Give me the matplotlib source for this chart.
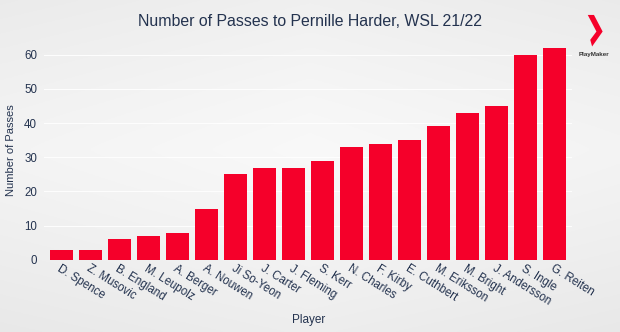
import numpy as np
import matplotlib.pyplot as plt
from matplotlib.patches import Polygon

plt.rcParams['font.family'] = ['Liberation Sans', 'DejaVu Sans']

players = ['D. Spence', 'Z. Musovic', 'B. England', 'M. Leupolz', 'A. Berger',
           'A. Nouwen', 'Ji So-Yeon', 'J. Carter', 'J. Fleming', 'S. Kerr',
           'N. Charles', 'F. Kirby', 'E. Cuthbert', 'M. Eriksson', 'M. Bright',
           'J. Andersson', 'S. Ingle', 'G. Reiten']
passes = [3, 3, 6, 7, 8, 15, 25, 27, 27, 29, 33, 34, 35, 39, 43, 45, 60, 62]

navy = '#24334f'
red = '#f5002a'

fig = plt.figure(figsize=(6.2, 3.32), dpi=100)

# fond dégradé
bg = fig.add_axes([0, 0, 1, 1], zorder=-10)
yy, xx = np.mgrid[0:1:200j, 0:1:300j]
vals = 0.975 - 0.09 * np.abs(yy - 0.45) ** 1.2 - 0.04 * np.abs(xx - 0.5)
bg.imshow(np.dstack([vals, vals, vals]).clip(0, 1), aspect='auto', extent=[0, 1, 0, 1])
bg.axis('off')

ax = fig.add_axes([0.071, 0.217, 0.852, 0.66])
ax.patch.set_alpha(0)
x = np.arange(len(players))
ax.bar(x, passes, width=0.8, color=red, zorder=3)
ax.set_xlim(-0.6, len(players) - 0.4)
ax.set_ylim(0, 64)
ax.set_yticks(range(0, 61, 10))
ax.grid(axis='y', color='white', linewidth=0.8, alpha=0.9, zorder=0)
for s in ax.spines.values():
    s.set_visible(False)
ax.tick_params(length=0, colors=navy, labelsize=8.3, pad=5)
ax.set_xticks(x)
ax.set_xticklabels(players, rotation=-32, ha='left', rotation_mode='anchor', fontsize=8.3)
ax.tick_params(axis='x', pad=2)
ax.set_ylabel('Number of Passes', color=navy, fontsize=8, labelpad=6)
ax.set_xlabel('Player', color=navy, fontsize=8.5, labelpad=4)

fig.text(0.5, 0.934, 'Number of Passes to Pernille Harder, WSL 21/22',
         ha='center', va='center', color=navy, fontsize=11.4)

# logo
logo = Polygon([[0.948, 0.955], [0.958, 0.955], [0.972, 0.905], [0.955, 0.86],
                [0.952, 0.88], [0.962, 0.905]], closed=True,
               facecolor=red, edgecolor='none', transform=fig.transFigure)
fig.patches.append(logo)
fig.text(0.958, 0.835, 'PlayMaker', ha='center', va='center', color='#333333',
         fontsize=4.5, fontweight='bold')

fig.savefig('out.png', dpi=100)
